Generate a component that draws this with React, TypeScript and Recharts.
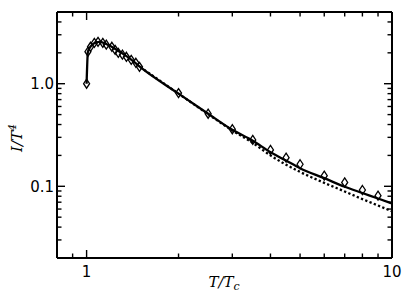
import React from 'react';
import { ComposedChart, Line, Scatter, XAxis, YAxis, ReferenceLine } from 'recharts';

// solid curve
const solidX = [1.0, 1.01, 1.03, 1.06, 1.1, 1.13, 1.2, 1.3, 1.4, 1.5, 2, 2.5, 3, 3.5, 4, 4.5, 5, 6, 7, 8, 9, 10];
const solidY = [1.0, 2.05, 2.3, 2.48, 2.56, 2.52, 2.32, 2.0, 1.72, 1.45, 0.8, 0.51, 0.355, 0.278, 0.215, 0.178, 0.15, 0.12, 0.099, 0.086, 0.076, 0.068];

// dotted curve
const dottedX = [1.5, 2, 2.5, 3, 3.5, 4, 5, 6, 7, 8, 9, 10];
const dottedY = [1.45, 0.8, 0.505, 0.35, 0.265, 0.2, 0.138, 0.108, 0.089, 0.075, 0.065, 0.057];

// diamond markers
const markX = [1.0, 1.01, 1.03, 1.06, 1.09, 1.13, 1.16, 1.21, 1.24, 1.27, 1.31, 1.35, 1.4, 1.45, 1.49, 2, 2.5, 3, 3.5, 4, 4.5, 5, 6, 7, 8, 9];
const markY = [1.0, 2.05, 2.29, 2.5, 2.56, 2.5, 2.4, 2.29, 2.14, 2.0, 1.92, 1.83, 1.71, 1.6, 1.46, 0.81, 0.51, 0.36, 0.283, 0.226, 0.19, 0.164, 0.127, 0.109, 0.092, 0.081];

const xTicks = [0.9, 1, 2, 3, 4, 5, 6, 7, 8, 9, 10];
const xLabels: Record<number, string> = { 1: '1', 10: '10' };
const yTicks = [0.03, 0.04, 0.05, 0.06, 0.07, 0.08, 0.09, 0.1, 0.2, 0.3, 0.4, 0.5, 0.6, 0.7, 0.8, 0.9, 1, 2, 3, 4];
const yLabels: Record<number, string> = { 0.1: '0.1', 1: '1.0' };

const solid = solidX.map((x, i) => ({ x, y: solidY[i] }));
const dotted = dottedX.map((x, i) => ({ x, y: dottedY[i] }));
const marks = markX.map((x, i) => ({ x, y: markY[i] }));

const W = 407;
const H = 305;
const LEFT = 57;
const BOTTOM = 47;
const M = { top: 12, right: 15, bottom: 0, left: 0 };
const PW = W - LEFT - M.right;
const PH = H - M.top - BOTTOM;
const tickFont = '"DejaVu Sans", sans-serif';
const mathFont = '"DejaVu Serif", serif';

const XTick = (p: any) => {
  const { x, payload } = p;
  const y = M.top + PH;
  const label = xLabels[payload.value];
  const len = label ? 8 : 4.5;
  return (
    <g>
      <line x1={x} x2={x} y1={y} y2={y - len} stroke="#000" strokeWidth={1.4} />
      <line x1={x} x2={x} y1={M.top} y2={M.top + len} stroke="#000" strokeWidth={1.4} />
      {label && (
        <text x={x} y={y + 19} textAnchor="middle" fontFamily={tickFont} fontSize={15} fill="#000">
          {label}
        </text>
      )}
    </g>
  );
};

const YTick = (p: any) => {
  const { y, payload } = p;
  const x = LEFT;
  const label = yLabels[payload.value];
  const len = label ? 8 : 4.5;
  return (
    <g>
      <line x1={x} x2={x + len} y1={y} y2={y} stroke="#000" strokeWidth={1.4} />
      <line x1={x + PW} x2={x + PW - len} y1={y} y2={y} stroke="#000" strokeWidth={1.4} />
      {label && (
        <text x={x - 3} y={y + 5.5} textAnchor="end" fontFamily={tickFont} fontSize={15} fill="#000">
          {label}
        </text>
      )}
    </g>
  );
};

const Diamond = (p: any) => {
  const { cx, cy } = p;
  const w = 3;
  const h = 4.5;
  return (
    <path
      d={`M${cx},${cy - h}L${cx + w},${cy}L${cx},${cy + h}L${cx - w},${cy}Z`}
      fill="none"
      stroke="#000"
      strokeWidth={1.3}
    />
  );
};

export default function App() {
  return (
    <div style={{ position: 'absolute', left: 0, top: 0, width: W, height: H, background: '#fff' }}>
      <ComposedChart width={W} height={H} margin={M}>
        <XAxis
          type="number"
          dataKey="x"
          scale="log"
          domain={[0.8, 10]}
          allowDataOverflow
          ticks={xTicks}
          interval={0}
          height={BOTTOM}
          tickSize={0}
          tickMargin={0}
          tickLine={false}
          axisLine={{ stroke: '#000', strokeWidth: 2 }}
          tick={(p: any) => <XTick {...p} />}
        />
        <YAxis
          type="number"
          dataKey="y"
          scale="log"
          domain={[0.02, 5]}
          allowDataOverflow
          ticks={yTicks}
          interval={0}
          width={LEFT}
          tickSize={0}
          tickMargin={0}
          tickLine={false}
          axisLine={{ stroke: '#000', strokeWidth: 2 }}
          tick={(p: any) => <YTick {...p} />}
        />
        <ReferenceLine y={5} stroke="#000" strokeWidth={2} />
        <ReferenceLine x={10} stroke="#000" strokeWidth={2} />
        <Line data={dotted} dataKey="y" type="monotone" stroke="#000" strokeWidth={2.3} strokeDasharray="2.3 2.3" dot={false} isAnimationActive={false} />
        <Line data={solid} dataKey="y" type="monotone" stroke="#000" strokeWidth={2.3} dot={false} isAnimationActive={false} />
        <Scatter data={marks} dataKey="y" shape={(p: any) => <Diamond {...p} />} isAnimationActive={false} />
      </ComposedChart>
      <svg width={W} height={H} style={{ position: 'absolute', left: 0, top: 0, pointerEvents: 'none' }}>
        <text x={224} y={287} textAnchor="middle" fontFamily={mathFont} fontStyle="italic" fontSize={15} fill="#000">
          T/T<tspan fontSize={11} dy={3}>c</tspan>
        </text>
        <text transform="translate(22,138) rotate(-90)" textAnchor="middle" fontFamily={mathFont} fontStyle="italic" fontSize={15} fill="#000">
          I/T<tspan fontSize={11} dy={-6}>4</tspan>
        </text>
      </svg>
    </div>
  );
}
